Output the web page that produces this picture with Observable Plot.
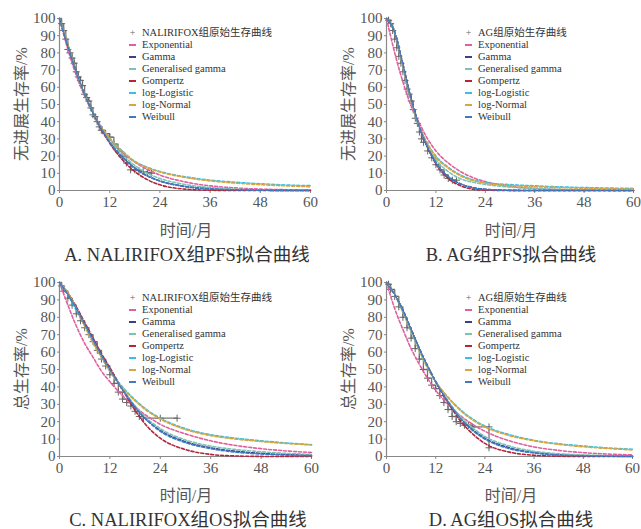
<!DOCTYPE html>
<html><head><meta charset="utf-8">
<script src="https://cdn.jsdelivr.net/npm/d3@7"></script>
<script src="https://cdn.jsdelivr.net/npm/@observablehq/plot@0.6"></script>
<style>
body{margin:0;background:#fff;}
#root{position:relative;width:641px;height:529px;overflow:hidden;font-family:"Liberation Serif","Times New Roman",Tinos,"DejaVu Serif",serif,"Noto Sans CJK SC";color:#444;}
.abs{position:absolute;white-space:nowrap;}
.ylab{font-size:16px;color:#555;transform:translate(-50%,-50%) rotate(-90deg);}
.xlab{font-size:16px;color:#555;transform:translate(-50%,-50%);}
.title{font-size:18.5px;color:#333;transform:translate(-50%,-50%);}
.leg{font-size:10.5px;line-height:12px;color:#333;}
.leg .row{height:12px;line-height:12px;display:flex;align-items:center;}
.leg .sw{display:inline-block;width:7px;height:1.6px;margin-right:6px;}
.leg .km{display:inline-block;width:7px;margin-right:6px;color:#666;font-size:10px;text-align:center;}
.leg .txt{line-height:12px;}
</style></head>
<body><div id="root"></div>
<script>
// ---- data ----
const models = ["Exponential","Gamma","Generalised gamma","Gompertz","log-Logistic","log-Normal","Weibull"];
const modelColors = ["#e0609e","#3b3f8c","#7cc3b5","#b3253a","#35c0e8","#d9a540","#3d7cc4"];
const xTicks = [0,12,24,36,48,60];
const yTicks = [0,10,20,30,40,50,60,70,80,90,100];
const fitTimes = [0,2,4,6,8,10,12,15,18,21,24,30,36,42,48,54,60];

// A: NALIRIFOX PFS
const kmA_t = [0,0.5,1,1.5,2,2.5,3,3.5,4,4.5,5,5.5,6,6.5,7,7.5,8,8.5,9,9.5,10,11,12,13,14,15,16,17,18,19,20,21,22];
const kmA_s = [100,97,93,88,82,80,77,74,69,66,64,61,56,54,52,48,44,43,40,37,35,33,31,27,23,20,16,12,12,11.5,11,10.5,10];
const fitA_exp   = [100,82,67,55,45,37,30,22,16.5,12.2,9,5,2.7,1.5,0.8,0.45,0.25];
const fitA_gam   = [100,84,69,56,45,36,28,19.5,13,8.5,5.5,2.3,0.9,0.35,0.15,0.05,0];
const fitA_ggam  = [100,84,69,56,45,36,29,21,14.5,10,7,3.5,1.7,0.8,0.4,0.2,0.1];
const fitA_gomp  = [100,84,69,56,45,35.5,27.5,18,11,6.3,3.3,0.8,0.15,0,0,0,0];
const fitA_llog  = [100,85,69,56,45,37,30.5,23,17,13.5,11,8,6,4.8,3.9,3.2,2.8];
const fitA_lnorm = [100,85,69,56,45,37,30.5,22.8,16.8,13.2,10.8,7.6,5.6,4.3,3.4,2.7,2.2];
const fitA_weib  = [100,84,69,56,45,36,28,19.5,13,8.5,5.6,2.4,1,0.4,0.15,0.05,0];

// B: AG PFS
const kmB_t = [0,0.5,1,1.5,2,2.5,3,3.5,4,4.5,5,5.5,6,6.5,7,7.5,8,8.5,9,10,11,12,13,14,15,16,17];
const kmB_s = [100,99,97,93,88,83,78,74,69,64,59,56,52,47,42,39,34,30,28,23,19,15,12,9,7,6,6];
const fitB_exp   = [100,80,63,49,39,30,23,16,11,7.5,5.2,2.4,1.1,0.5,0.25,0.1,0.05];
const fitB_gam   = [100,92,73,53,37,25,16,8,3.8,1.7,0.7,0.1,0,0,0,0,0];
const fitB_ggam  = [100,92,72,52,37,26,18,11,6.8,4.8,3.5,2,1.2,0.7,0.4,0.25,0.15];
const fitB_gomp  = [100,92,73,53,37,25,15.5,7,2.7,0.8,0.2,0,0,0,0,0,0];
const fitB_llog  = [100,92,72,52,37,27,20,13.5,9,6.2,4.6,3.4,2.7,2.1,1.7,1.4,1.2];
const fitB_lnorm = [100,92,72,52,37,27,19.5,13,8.5,5.8,4.2,2.9,2.2,1.7,1.3,1,0.8];
const fitB_weib  = [100,92,73,53,37,25,16,8,3.8,1.6,0.6,0.1,0,0,0,0,0];

// C: NALIRIFOX OS
const kmC_t = [0,0.5,1,2,3,4,5,6,7,8,9,10,11,12,13,14,15,16,17,18,19,20,24,28];
const kmC_s = [100,98,95,91,87,82,78,74,70,66,61,56,52,47,42,37,33,31,29,26,23,22,22,22];
const fitC_exp   = [100,87,75,65,57,49,43,35,28.5,23,18.5,13,9,6.3,4.5,3.2,2.3];
const fitC_gam   = [100,93,85,76,67,58,50,38.5,28.5,20.5,15,8.5,5,3,1.8,1.1,0.7];
const fitC_ggam  = [100,93,85,76,67,58,50,39,29,21.5,16,9.5,6,4,2.7,1.8,1.2];
const fitC_gomp  = [100,94,86,77,68,59,51,38.5,26.5,17,10.5,4,1.2,0.3,0.05,0,0];
const fitC_llog  = [100,93,84,75,66,57,49,40,32.5,26.5,22,16,12.5,10.5,9,7.8,6.8];
const fitC_lnorm = [100,94,85,75,65,57,49,39.5,32,26,21.5,15.5,12,10,8.6,7.5,6.6];
const fitC_weib  = [100,93,85,76,67,58,50,38.5,28.5,20.5,14.5,8,4.5,2.5,1.4,0.8,0.5];

// D: AG OS
const kmD_t = [0,0.5,1,2,3,4,5,6,7,8,9,10,11,12,13,14,15,16,17,18,19,20,21,25,25];
const kmD_s = [100,99,96,92,86,80,74,68,62,56,50,45,41,39,35,31,27,23,20,19,18,18,17,17,5];
const fitD_exp   = [100,85,73,62,53,45,38,30,23.5,18.5,14.5,9,5.5,3.5,2.2,1.4,0.9];
const fitD_gam   = [100,93,84,73,62,52,43,31.5,22,15.5,10.5,5,2.3,1,0.5,0.2,0.1];
const fitD_ggam  = [100,93,84,73,62,52,43,32,23,16.5,11.5,6,3,1.6,0.9,0.5,0.3];
const fitD_gomp  = [100,93,84,73,62,52,43,31,20.5,13,7.5,2.5,0.7,0.15,0,0,0];
const fitD_llog  = [100,93,83,72,61,51,43,34,27,21.5,17.5,12.5,9.3,7.3,6,4.9,4.2];
const fitD_lnorm = [100,93,83,72,61,51,43,34,26.5,21,17,12,9,7,5.6,4.6,3.8];
const fitD_weib  = [100,93,84,73,62,52,43,31.5,22,15,10,4.5,2,0.8,0.35,0.15,0.05];

const panels = [
  {left:0,top:0,width:320,ml:59,mr:10,mt:18,mb:50,ylabel:"无进展生存率/%",title:"A. NALIRIFOX组PFS拟合曲线",kmName:"NALIRIFOX组原始生存曲线",kt:kmA_t,ks:kmA_s,
   fits:[fitA_exp,fitA_gam,fitA_ggam,fitA_gomp,fitA_llog,fitA_lnorm,fitA_weib],legX:129,legTop:27,ylx:20,xlx:186,tx:187},
  {left:320,top:0,width:321,ml:66,mr:8,mt:18,mb:50,ylabel:"无进展生存率/%",title:"B. AG组PFS拟合曲线",kmName:"AG组原始生存曲线",kt:kmB_t,ks:kmB_s,
   fits:[fitB_exp,fitB_gam,fitB_ggam,fitB_gomp,fitB_llog,fitB_lnorm,fitB_weib],legX:465,legTop:27,ylx:347,xlx:511,tx:511},
  {left:0,top:265,width:320,ml:59,mr:9,mt:17,mb:49,ylabel:"总生存率/%",title:"C. NALIRIFOX组OS拟合曲线",kmName:"NALIRIFOX组原始生存曲线",kt:kmC_t,ks:kmC_s,
   fits:[fitC_exp,fitC_gam,fitC_ggam,fitC_gomp,fitC_llog,fitC_lnorm,fitC_weib],legX:129,legTop:292,ylx:20,xlx:186,tx:188},
  {left:320,top:265,width:321,ml:66,mr:9,mt:17,mb:49,ylabel:"总生存率/%",title:"D. AG组OS拟合曲线",kmName:"AG组原始生存曲线",kt:kmD_t,ks:kmD_s,
   fits:[fitD_exp,fitD_gam,fitD_ggam,fitD_gomp,fitD_llog,fitD_lnorm,fitD_weib],legX:465,legTop:292,ylx:347,xlx:511,tx:511}
];

const root = document.getElementById("root");
const FONT = '"Liberation Serif","Times New Roman",Tinos,"DejaVu Serif",serif,"Noto Sans CJK SC"';

for (const p of panels) {
  const km = p.kt.map((t,i)=>({t, s:p.ks[i]}));
  const fit = [];
  p.fits.forEach((arr,mi)=>arr.forEach((s,i)=>fit.push({t:fitTimes[i], s, model:models[mi]})));
  const chart = Plot.plot({
    width:p.width, height:240,
    marginLeft:p.ml, marginRight:p.mr, marginTop:p.mt, marginBottom:p.mb,
    style:{fontFamily:FONT, fontSize:"15px", color:"#555", background:"transparent", overflow:"visible"},
    x:{domain:[0,60]},
    y:{domain:[0,100]},
    color:{domain:models, range:modelColors},
    marks:[
      Plot.axisX({ticks:xTicks, tickSize:3, tickPadding:3, label:null, stroke:"#888"}),
      Plot.axisY({ticks:yTicks, tickSize:2, tickPadding:2, label:null, stroke:"#888"}),
      Plot.ruleX([0],{stroke:"#888", strokeWidth:1.2}),
      Plot.ruleY([0],{stroke:"#888", strokeWidth:1.2}),
      Plot.line(km,{x:"t", y:"s", curve:"step-after", stroke:"#777", strokeWidth:1.3}),
      Plot.dot(km.slice(1),{x:"t", y:"s", symbol:"plus", r:2.4, stroke:"#666", strokeWidth:1}),
      Plot.line(fit,{x:"t", y:"s", z:"model", stroke:"model", curve:"monotone-x", strokeWidth:1.6, strokeDasharray:"3,2"})
    ]
  });
  chart.style.position="absolute";
  chart.style.left=p.left+"px";
  chart.style.top=p.top+"px";
  root.appendChild(chart);

  const yl=document.createElement("div");
  yl.className="abs ylab"; yl.textContent=p.ylabel;
  yl.style.left=p.ylx+"px"; yl.style.top=(p.top+104)+"px";
  root.appendChild(yl);

  const xl=document.createElement("div");
  xl.className="abs xlab"; xl.textContent="时间/月";
  xl.style.left=p.xlx+"px"; xl.style.top=(p.top+229)+"px";
  root.appendChild(xl);

  const tt=document.createElement("div");
  tt.className="abs title"; tt.textContent=p.title;
  tt.style.left=p.tx+"px"; tt.style.top=(p.top+253)+"px";
  root.appendChild(tt);

  const lg=document.createElement("div");
  lg.className="abs leg";
  lg.style.left=p.legX+"px"; lg.style.top=p.legTop+"px";
  let html=`<div class="row"><span class="km">+</span><span class="txt">${p.kmName}</span></div>`;
  models.forEach((m,i)=>{ html+=`<div class="row"><span class="sw" style="background:${modelColors[i]}"></span><span class="txt">${m}</span></div>`; });
  lg.innerHTML=html;
  root.appendChild(lg);
}
</script>
</body></html>
